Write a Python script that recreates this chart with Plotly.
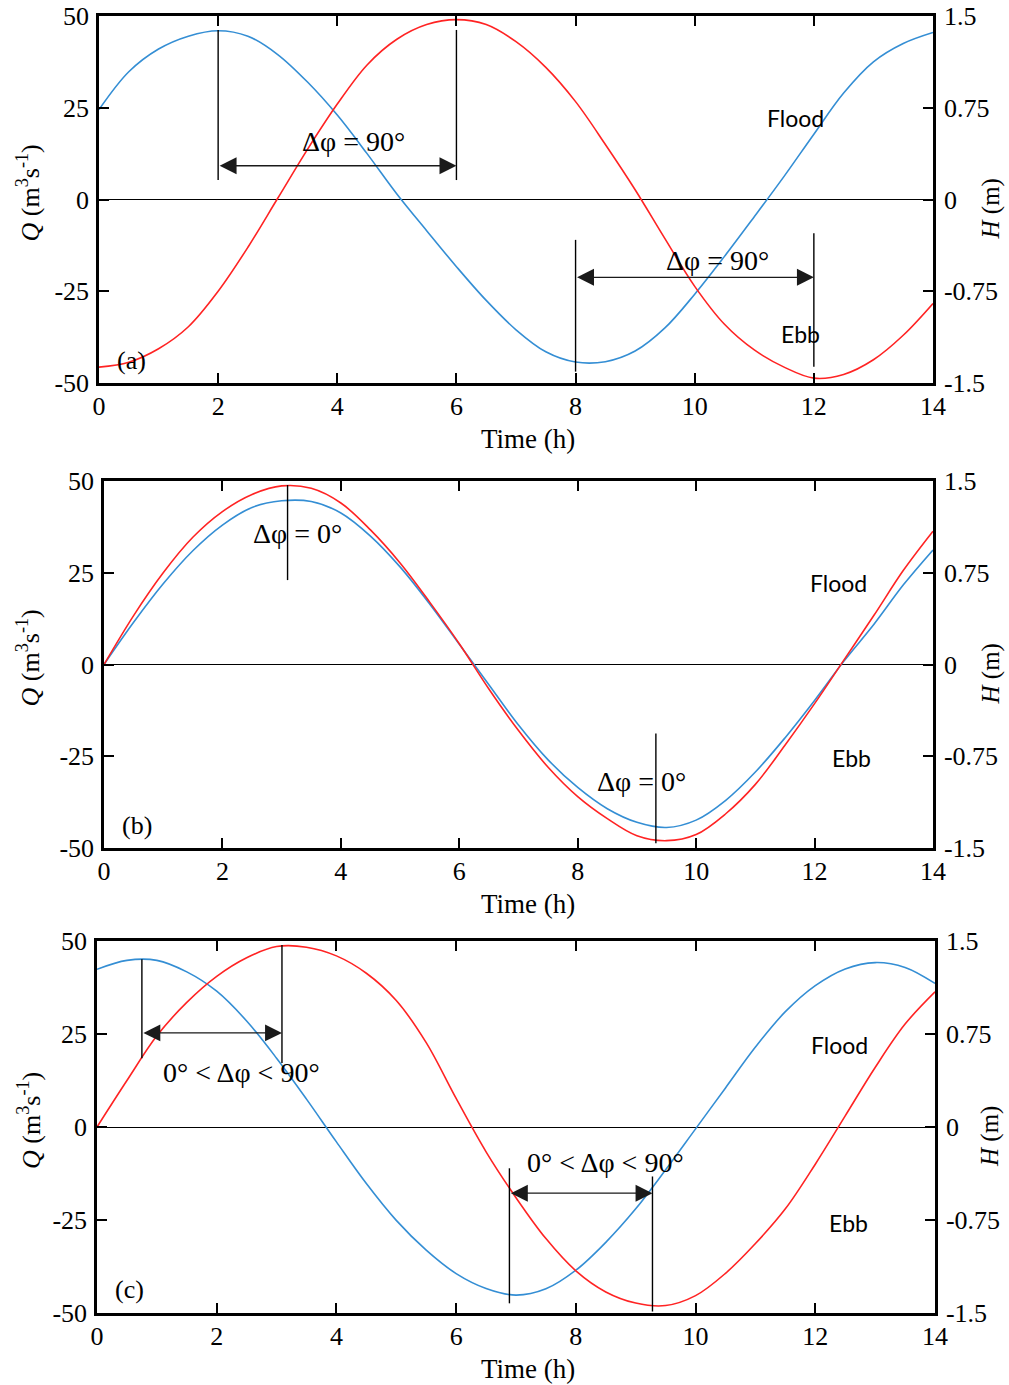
import plotly.graph_objects as go

W, H = 1009, 1385

# ---------------- data ----------------
time_h = [0, 0.5, 1, 1.5, 2, 2.5, 3, 3.5, 4, 4.5, 5, 5.5, 6, 6.5, 7, 7.5, 8,
          8.5, 9, 9.5, 10, 10.5, 11, 11.5, 12, 12.5, 13, 13.5, 14]

# panel (a): discharge Q (m3/s) and water level H (m)
q_a = [24.5, 34.8, 41, 44.5, 46, 44.5, 39.5, 32, 23, 12.5, 1.5, -8.5, -18.3, -27.5,
       -35.5, -41.5, -44.3, -44.2, -41.3, -35, -25.8, -15.5, -4.7, 6.3, 17.8, 29, 37.5, 42.5, 45.5]
h_a = [-1.37, -1.33, -1.22, -1.04, -0.75, -0.39, 0.01, 0.41, 0.78, 1.10, 1.31, 1.43,
       1.47, 1.43, 1.29, 1.08, 0.80, 0.45, 0.08, -0.32, -0.71, -1.02, -1.23, -1.37,
       -1.46, -1.43, -1.31, -1.11, -0.85]

# panel (b)
q_b = [0, 11.5, 22, 31, 38, 42.8, 44.6, 44.4, 41.3, 35, 26.6, 16.5, 5.5, -5.5,
       -16.5, -26, -33.5, -39.3, -43, -44.4, -42.4, -37, -29.3, -20, -9.8, 1,
       10.9, 21.7, 31.2]
h_b = [0, 0.40, 0.75, 1.04, 1.25, 1.39, 1.46, 1.44, 1.32, 1.10, 0.83, 0.51, 0.17,
       -0.20, -0.54, -0.84, -1.08, -1.26, -1.40, -1.44, -1.39, -1.22, -0.98, -0.66,
       -0.32, 0.04, 0.40, 0.77, 1.09]

# panel (c)
q_c = [42.4, 44.8, 44.8, 41.7, 36.5, 28.5, 18.5, 7.5, -4, -15.2, -25.1, -33.1, -39.4,
       -43.4, -45.2, -43.5, -38.5, -31, -22, -11.5, -0.5, 10.5, 21.5, 31, 38, 42.5,
       44.2, 42.9, 38.6]
h_c = [0, 0.375, 0.735, 1.005, 1.215, 1.365, 1.455, 1.45, 1.38, 1.24, 1.02, 0.68, 0.23,
       -0.20, -0.57, -0.90, -1.16, -1.33, -1.42, -1.44, -1.36, -1.18, -0.94, -0.66,
       -0.30, 0.09, 0.48, 0.83, 1.09]

x_ticks = [0, 2, 4, 6, 8, 10, 12, 14]
q_ticks = [-50, -25, 0, 25, 50]
q_tick_text = ["-50", "-25", "0", "25", "50"]
h_ticks = [-1.5, -0.75, 0, 0.75, 1.5]
h_tick_text = ["-1.5", "-0.75", "0", "0.75", "1.5"]

panel_labels = ["(a)", "(b)", "(c)"]
# vertical marker lines: (t, Q_from, Q_to); arrows: (t_left, t_right, Q); labels: (text, t, Q)
markers_a = [(2, 5.3, 46.2), (6, 5.3, 46.2), (8, -11, -46.9), (12, -9.2, -45.6)]
arrows_a = [(2, 6, 9.2), (8, 12, -21.2)]
labels_a = [("Δφ = 90°", 4.28, 15.7), ("Δφ = 90°", 10.38, -16.5)]

markers_b = [(3.1, 48.9, 23), (9.32, -18.8, -48.7)]
arrows_b = []
labels_b = [("Δφ = 0°", 3.27, 35.6), ("Δφ = 0°", 9.08, -31.9)]

markers_c = [(0.75, 45.1, 18.5), (3.09, 48.9, 17.2), (6.89, -11.1, -47.4), (9.28, -13.3, -49.6)]
arrows_c = [(0.75, 3.09, 25.3), (6.89, 9.28, -17.8)]
labels_c = [("0° < Δφ < 90°", 2.41, 14.6), ("0° < Δφ < 90°", 8.5, -9.5)]

flood_pos = [(11.7, 22.2), (12.4, 22.1), (12.4, 22.0)]
ebb_pos = [(11.77, -36.7), (12.63, -25.6), (12.56, -25.9)]

# ---------------- layout geometry (pixels) ----------------
frames = [  # x0, x1, ytop, ybottom
    (99, 933, 16, 383),
    (104, 933, 481, 848),
    (97, 935, 941, 1313),
]

BLUE = "rgb(52,142,212)"
RED = "rgb(255,35,35)"
SERIF = "Liberation Serif, Times New Roman, serif"
SANS = "Lato, Open Sans, sans-serif"

fig = go.Figure()
layout = dict(
    template="none",
    width=W, height=H, margin=dict(l=0, r=0, t=0, b=0, pad=0), autosize=False,
    paper_bgcolor="white", plot_bgcolor="white", showlegend=False,
)
annotations = []
shapes = []

panels = [
    (q_a, h_a, markers_a, arrows_a, labels_a),
    (q_b, h_b, markers_b, arrows_b, labels_b),
    (q_c, h_c, markers_c, arrows_c, labels_c),
]

TICKFONT = dict(family=SERIF, size=26, color="black")

for i, (qv, hv, mk, ar, lb) in enumerate(panels):
    x0, x1, yt, yb = frames[i]
    xn = "x" if i == 0 else f"x{i+1}"
    yq = "y" if i == 0 else f"y{2*i+1}"
    yh = f"y{2*i+2}"
    xkey = "xaxis" if i == 0 else f"xaxis{i+1}"
    yqkey = "yaxis" if i == 0 else f"yaxis{2*i+1}"
    yhkey = f"yaxis{2*i+2}"
    dom_x = [x0 / W, x1 / W]
    dom_y = [1 - yb / H, 1 - yt / H]

    layout[xkey] = dict(
        domain=dom_x, anchor=yq, range=[0, 14], tickvals=x_ticks,
        ticktext=[str(v) for v in x_ticks],
        ticks="inside", ticklen=10, tickwidth=1.5, tickcolor="black",
        showline=True, linewidth=2.5, linecolor="black", mirror="ticks",
        showgrid=False, zeroline=False, automargin=False,
        tickfont=TICKFONT, ticklabelstandoff=-2,
    )
    layout[yqkey] = dict(
        domain=dom_y, anchor=xn, range=[-50, 50], tickvals=q_ticks, ticktext=q_tick_text,
        ticks="inside", ticklen=10, tickwidth=1.5, tickcolor="black",
        showline=True, linewidth=2.5, linecolor="black", mirror=False,
        showgrid=False, zeroline=True, zerolinecolor="black", zerolinewidth=1.2,
        automargin=False, tickfont=TICKFONT, ticklabelstandoff=2,
    )
    layout[yhkey] = dict(
        overlaying=yq, side="right", anchor=xn, range=[-1.5, 1.5],
        tickvals=h_ticks, ticktext=h_tick_text,
        ticks="inside", ticklen=10, tickwidth=1.5, tickcolor="black",
        showline=True, linewidth=2.5, linecolor="black",
        showgrid=False, zeroline=False, automargin=False,
        tickfont=TICKFONT, ticklabelstandoff=3,
    )

    fig.add_trace(go.Scatter(x=time_h, y=qv, xaxis=xn, yaxis=yq, mode="lines",
                             line=dict(color=BLUE, width=1.6, shape="spline", smoothing=1.0),
                             name="Q", hoverinfo="skip"))
    fig.add_trace(go.Scatter(x=time_h, y=hv, xaxis=xn, yaxis=yh, mode="lines",
                             line=dict(color=RED, width=1.6, shape="spline", smoothing=1.0),
                             name="H", hoverinfo="skip"))

    for (t, qa, qb) in mk:
        shapes.append(dict(type="line", xref=xn, yref=yq, x0=t, x1=t, y0=qa, y1=qb,
                           line=dict(color="black", width=1.4)))
    for (ta, tb, qy) in ar:
        annotations.append(dict(
            xref=xn, yref=yq, axref=xn, ayref=yq, x=tb, y=qy, ax=ta, ay=qy,
            text="", showarrow=True, arrowhead=2, startarrowhead=2,
            arrowside="end+start", arrowsize=2.6, startarrowsize=2.6,
            arrowwidth=1.3, arrowcolor="#1a1a1a", standoff=0, startstandoff=0,
        ))
    for (txt, tx, qy) in lb:
        annotations.append(dict(xref=xn, yref=yq, x=tx, y=qy, text=txt, showarrow=False,
                                font=dict(family=SERIF, size=28, color="black"),
                                xanchor="center", yanchor="middle"))
    fx, fy = flood_pos[i]
    annotations.append(dict(xref=xn, yref=yq, x=fx, y=fy, text="Flood", showarrow=False,
                            font=dict(family=SANS, size=23, color="black"),
                            xanchor="center", yanchor="middle"))
    ex, ey = ebb_pos[i]
    annotations.append(dict(xref=xn, yref=yq, x=ex, y=ey, text="Ebb", showarrow=False,
                            font=dict(family=SANS, size=23, color="black"),
                            xanchor="center", yanchor="middle"))
    annotations.append(dict(xref=xn, yref=yq, x=0.55, y=-43.8, text=panel_labels[i],
                            showarrow=False, font=dict(family=SERIF, size=26, color="black"),
                            xanchor="center", yanchor="middle"))

    # axis titles
    ymid = (yt + yb) / 2
    annotations.append(dict(xref="paper", yref="paper", x=29 / W, y=1 - (ymid - 6) / H,
                            text="<i>Q</i> (m<sup>3</sup>s<sup>-1</sup>)", textangle=-90,
                            showarrow=False, font=dict(family=SERIF, size=26, color="black"),
                            xanchor="center", yanchor="middle"))
    annotations.append(dict(xref="paper", yref="paper", x=990 / W, y=1 - (ymid + 10) / H,
                            text="<i>H</i> (m)", textangle=-90,
                            showarrow=False, font=dict(family=SERIF, size=25, color="black"),
                            xanchor="center", yanchor="middle"))
    annotations.append(dict(xref="paper", yref="paper", x=528 / W, y=1 - (yb + 56) / H,
                            text="Time (h)", showarrow=False,
                            font=dict(family=SERIF, size=27, color="black"),
                            xanchor="center", yanchor="middle"))

layout["annotations"] = annotations
layout["shapes"] = shapes
fig.update_layout(**layout)
fig.write_html("out.html")
